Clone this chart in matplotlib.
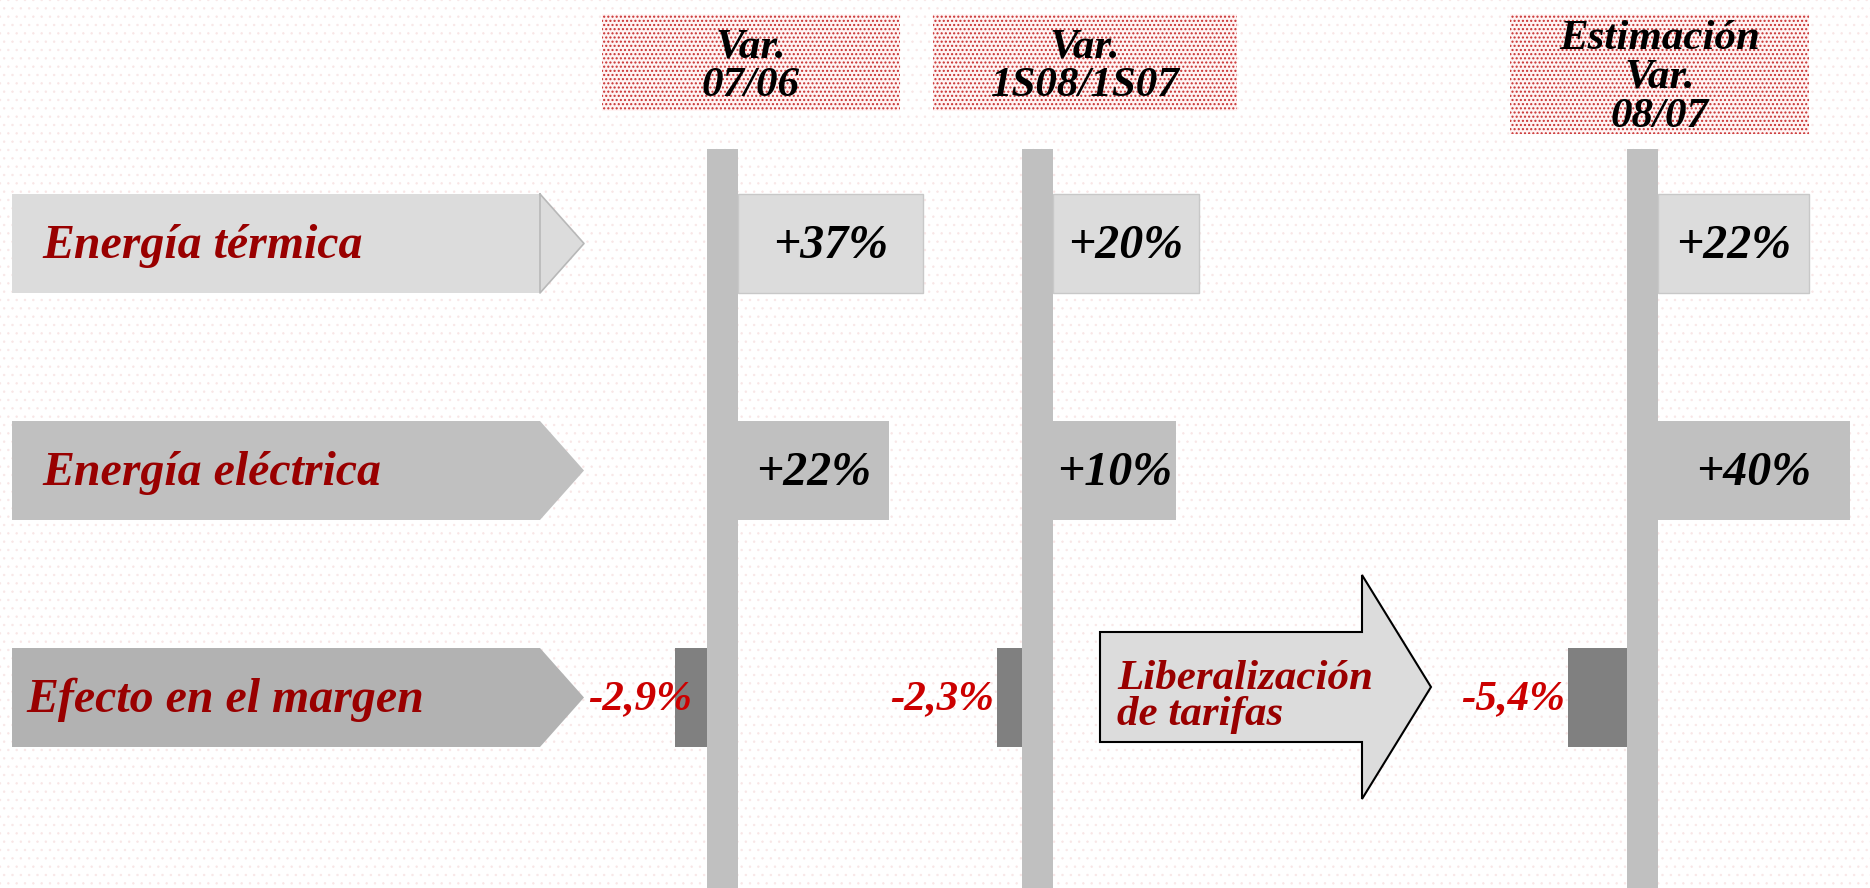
import matplotlib
matplotlib.use("Agg")
from matplotlib import pyplot as plt
from matplotlib.patches import Polygon, Rectangle

# data
rows = ["Energía térmica", "Energía eléctrica", "Efecto en el margen"]
periods = ["Var.\n07/06", "Var.\n1S08/1S07", "Estimación\nVar.\n08/07"]
var_0706 = [37, 22, -2.9]
var_1s08 = [20, 10, -2.3]
var_0807 = [22, 40, -5.4]
note = "Liberalización\nde tarifas"

columns = [var_0706, var_1s08, var_0807]

def fmt(v):
    if v >= 0:
        return "+%d%%" % round(v)
    return ("%.1f%%" % v).replace(".", ",")

def bar_len(v):
    if v >= 0:
        return 100 + 2.3 * v
    return 11 * abs(v)

W, H = 1870, 888
fig = plt.figure(figsize=(W / 100, H / 100), dpi=100)
ax = fig.add_axes([0, 0, 1, 1])
ax.set_xlim(0, W)
ax.set_ylim(H, 0)
ax.axis("off")
renderer = fig.canvas.get_renderer()

serif = "Liberation Serif"
dark_red = "#990000"

# faint speckled background
plt.rcParams["hatch.linewidth"] = 0.5
ax.add_patch(Rectangle((0, 0), W, H, facecolor="white", edgecolor="#f8e6e6",
                       lw=0, hatch="..", zorder=0))

row_y = [243.5, 470.5, 697.5]
row_h = 99
row_fill = ["#dcdcdc", "#c0c0c0", "#b2b2b2"]
axis_x = [738, 1053, 1658]
head_x = [(602, 900, 14, 111), (933, 1237, 14, 111), (1510, 1809, 14, 134)]
tip_x = 584

# row label arrows
for i, (lab, y) in enumerate(zip(rows, row_y)):
    t, b = y - row_h / 2, y + row_h / 2
    ax.add_patch(Polygon([(12, t), (540, t), (tip_x, y), (540, b), (12, b)],
                         closed=True, facecolor=row_fill[i], edgecolor="none",
                         zorder=2))
    if i == 0:
        ax.plot([540, tip_x, 540, 540], [t, y, b, t], color="#b8b8b8", lw=1.2,
                zorder=3)
    x0 = 26 if i == 2 else 42
    ax.text(x0, y + 2, lab, fontsize=34.5, family=serif, style="italic",
            weight="bold", color=dark_red, ha="left", va="center", zorder=4)

# period headers
plt.rcParams["hatch.linewidth"] = 1.0
for (x0, x1, y0, y1), p in zip(head_x, periods):
    ax.add_patch(Rectangle((x0, y0), x1 - x0, y1 - y0, facecolor="#fff4f4",
                           edgecolor="#c83030", lw=0, hatch="....", zorder=2))
    ax.text((x0 + x1) / 2, (y0 + y1) / 2 + 4, p, fontsize=31, family=serif,
            style="italic", weight="bold", color="black", ha="center",
            va="center", linespacing=1.02, zorder=4)

# vertical axes
for xa in axis_x:
    ax.add_patch(Rectangle((xa - 31, 149), 31, H - 149, facecolor="#c0c0c0",
                           edgecolor="none", zorder=3))

# bars
for xa, vals in zip(axis_x, columns):
    for i, (v, y) in enumerate(zip(vals, row_y)):
        L = bar_len(v)
        if v >= 0:
            ax.barh(y, L, left=xa, height=row_h,
                    color=row_fill[i] if i == 0 else "#c0c0c0",
                    edgecolor="#c8c8c8" if i == 0 else "none", lw=1, zorder=3)
            ax.text(xa + L / 2, y + 2, fmt(v), fontsize=34.5, family=serif,
                    style="italic", weight="bold", color="black",
                    ha="center", va="center", zorder=5)
        else:
            ax.barh(y, -L, left=xa - 31, height=row_h, color="#808080",
                    edgecolor="none", zorder=3)
            txt = ax.text(xa - 31 - L - 3, y + 2, fmt(v), fontsize=31,
                          family=serif, style="italic", weight="bold",
                          color="#cc0000", ha="right", va="center", zorder=5)
            # keep the label clear of the row arrow tip
            bb = txt.get_window_extent(renderer).transformed(ax.transData.inverted())
            if min(bb.x0, bb.x1) < tip_x + 4:
                txt.set_x(tip_x + 4)
                txt.set_ha("left")

# big arrow
ax.add_patch(Polygon([(1100, 632), (1362, 632), (1362, 575), (1431, 687),
                      (1362, 799), (1362, 742), (1100, 742)], closed=True,
                     facecolor="#dcdcdc", edgecolor="black", lw=1.5, zorder=3))
ax.text(1117, 697, note, fontsize=31, family=serif, style="italic",
        weight="bold", color=dark_red, ha="left", va="center",
        multialignment="left", linespacing=0.95, zorder=5)

fig.savefig("out.png", dpi=100)
